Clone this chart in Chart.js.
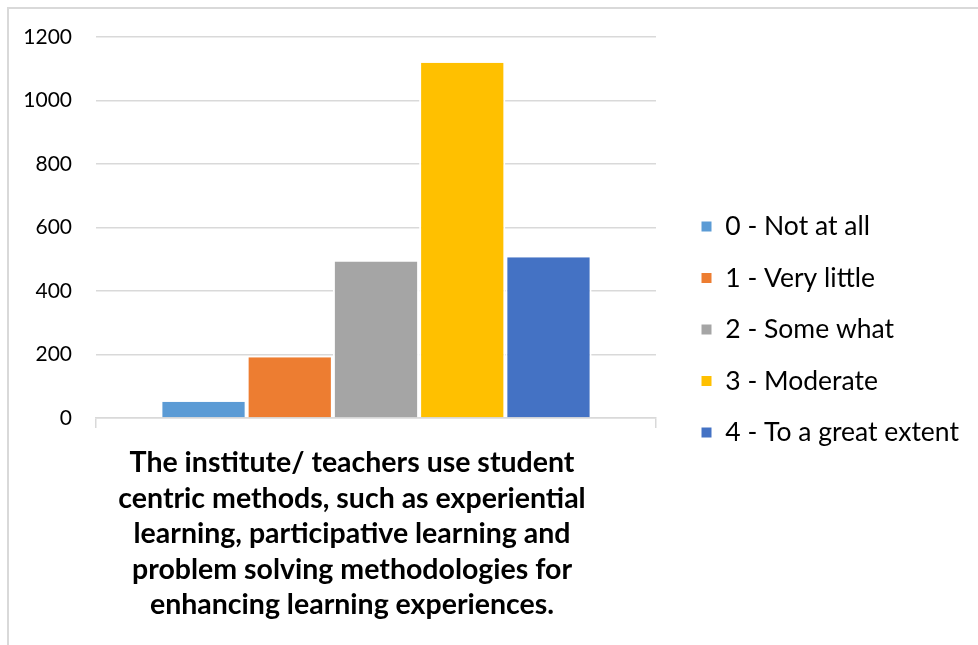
<!DOCTYPE html>
<html>
<head>
<meta charset="utf-8">
<script src="https://cdn.jsdelivr.net/npm/chart.js@4/dist/chart.umd.min.js"></script>
<style>
  body { margin: 0; background: #fff; }
  #frame { position: absolute; left: 7px; top: 7px; width: 1100px; height: 800px; border: 2px solid #d9d9d9; }
  #wrap { position: absolute; left: 0; top: 0; width: 978px; height: 645px; }
</style>
</head>
<body>
<div id="frame"></div>
<div id="wrap"><canvas id="chart" width="978" height="645"></canvas></div>
<script>
// category label (one question, split in lines like the original)
const questionLines = [
    'The institute/ teachers use student',
    'centric methods, such as experiential',
    'learning, participative learning and',
    'problem solving methodologies for',
    'enhancing learning experiences.'
];

// answer levels and counts
const levels = ['0 - Not at all', '1 - Very little', '2 - Some what', '3 - Moderate', '4 - To a great extent'];
const counts = [51, 191, 493, 1119, 506];
const colors = ['#5B9BD5', '#ED7D31', '#A5A5A5', '#FFC000', '#4472C4'];

// y axis
const yMax = 1200;
const yStep = 200;

// Chart.js caps a side legend at a quarter of the width, so widen it by hand
// and nudge it right / up so it sits like the original
const legendPlace = {
    id: 'legendPlace',
    afterInit(chart) {
        const legend = chart.legend;
        const fit = legend.fit;
        legend.fit = function () {
            fit.call(this);
            this.width = 322;
        };
    },
    afterLayout(chart) {
        const legend = chart.legend;
        legend.left += 20;
        legend.right += 20;
        legend.top -= 9;
        legend.bottom -= 9;
    }
};

function drawChart() {
    const datasets = levels.map((lvl, i) => ({
        label: lvl,
        data: [counts[i]],
        backgroundColor: colors[i],
        // white side edges give the small gaps between bars
        borderColor: '#fff',
        borderWidth: { left: 2, right: 2, top: 0, bottom: 0 },
        categoryPercentage: 0.77,
        barPercentage: 1
    }));

    const ctx = document.getElementById('chart').getContext('2d');
    new Chart(ctx, {
        type: 'bar',
        data: {
            labels: [questionLines],
            datasets: datasets
        },
        plugins: [legendPlace],
        options: {
            responsive: false,
            animation: false,
            layout: { padding: { left: 10, top: 37, right: 0, bottom: 5 } },
            plugins: {
                tooltip: { enabled: false },
                legend: {
                    position: 'right',
                    labels: {
                        boxWidth: 11,
                        boxHeight: 11,
                        padding: 25,
                        color: '#000',
                        font: { family: 'Lato', size: 26.5 }
                    }
                }
            },
            scales: {
                x: {
                    grid: { drawOnChartArea: false, tickLength: 10, color: '#d9d9d9', lineWidth: 1.5 },
                    border: { color: '#d9d9d9', width: 1.5 },
                    ticks: {
                        color: '#000',
                        padding: 17,
                        labelOffset: -24,
                        font: { family: 'Lato', size: 28.5, weight: 'bold', lineHeight: 1.25 }
                    }
                },
                y: {
                    min: 0,
                    max: yMax,
                    afterFit: (scale) => { scale.width = 86; },
                    grid: { color: '#d9d9d9', lineWidth: 1.5, drawTicks: false },
                    border: { display: false },
                    ticks: {
                        stepSize: yStep,
                        color: '#000',
                        padding: 24,
                        font: { family: 'Lato', size: 21 },
                        callback: (v) => String(v)
                    }
                }
            }
        }
    });
}

// make sure Lato is ready before Chart.js measures text
Promise.all([
    document.fonts.load('26.5px Lato'),
    document.fonts.load('bold 28.5px Lato'),
    document.fonts.load('21px Lato')
]).then(drawChart, drawChart);
</script>
</body>
</html>
